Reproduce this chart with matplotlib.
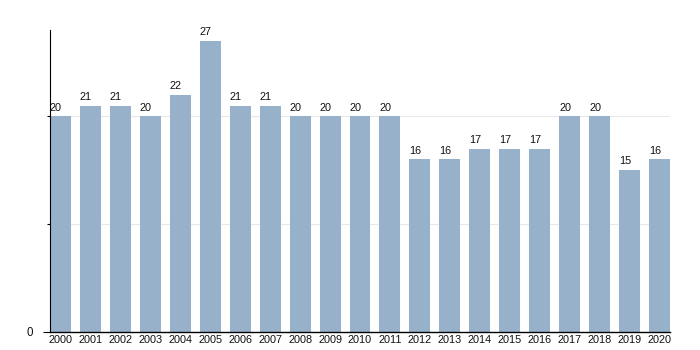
import numpy as np
import matplotlib
matplotlib.use("Agg")
import matplotlib.pyplot as plt

plt.rcParams["font.family"] = ["Liberation Sans", "DejaVu Sans"]

# Yearly counts
years = [str(y) for y in range(2000, 2021)]
counts = [20, 21, 21, 20, 22, 27, 21, 21, 20, 20, 20, 20, 16, 16, 17, 17, 17, 20, 20, 15, 16]

BAR_COLOR = "#98b1cb"
BAR_WIDTH = 0.7
FS = 7.8

fig = plt.figure(figsize=(7, 3.5), dpi=100)
ax = fig.add_axes([50 / 700, 18 / 350, 620 / 700, 302 / 350])

x = np.arange(len(years))
bars = ax.bar(x, counts, width=BAR_WIDTH, color=BAR_COLOR, zorder=2)

# value labels sit just above each bar, starting at its left edge
for rect, v in zip(bars, counts):
    ax.text(rect.get_x(), rect.get_height() + 0.35, str(v),
            ha="left", va="bottom", fontsize=FS, color="#111111")

ax.set_xlim(-BAR_WIDTH / 2, len(years) - 1 + BAR_WIDTH / 2)
ax.set_ylim(0, 28)

ax.set_xticks(x)
ax.set_xticklabels(years, fontsize=FS, color="#111111")
ax.tick_params(axis="x", length=0, pad=2.5)

ax.set_yticks([0, 10, 20])
ax.set_yticklabels(["0", "", ""], fontsize=FS + 0.5, color="#111111")
ax.tick_params(axis="y", length=2, width=0.8, pad=10)
ax.yaxis.get_major_ticks()[0].tick1line.set_markersize(5)

ax.grid(axis="y", color="#e8e8e8", linewidth=0.8, zorder=0)
ax.set_axisbelow(True)

for side in ("top", "right"):
    ax.spines[side].set_visible(False)
ax.spines["left"].set_linewidth(0.8)
ax.spines["bottom"].set_linewidth(1.0)

fig.savefig("out.png", dpi=100)
